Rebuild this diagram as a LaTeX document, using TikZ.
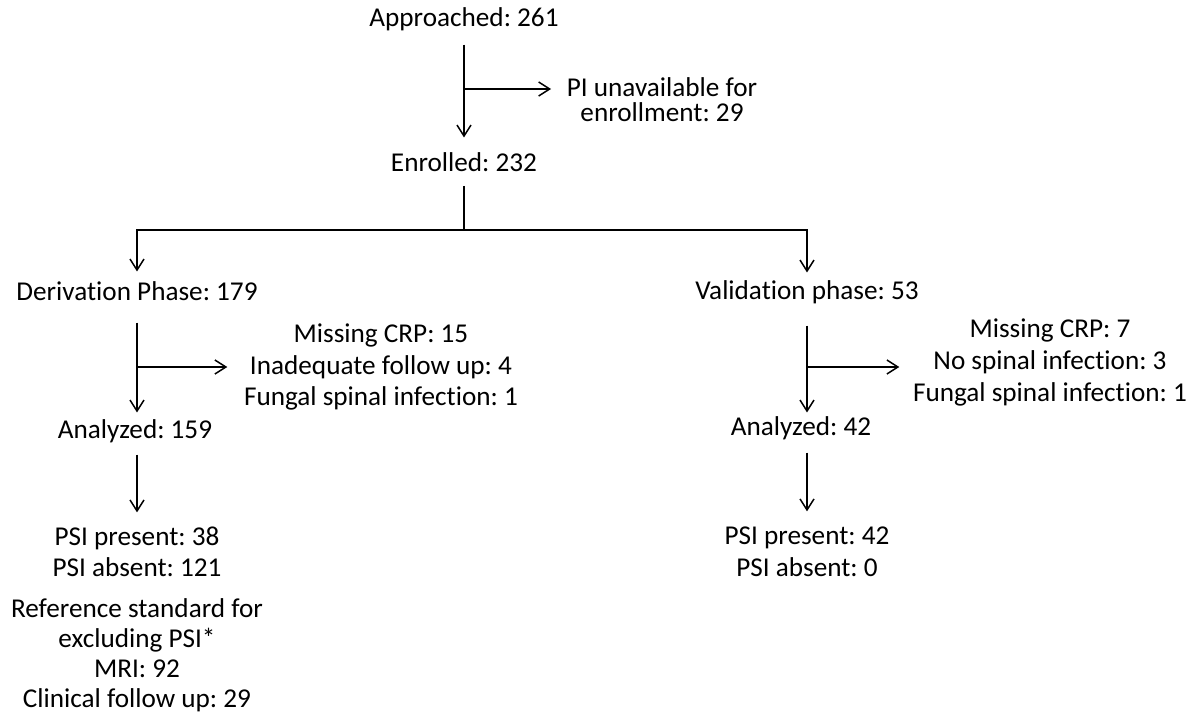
\documentclass[tikz,border=0pt]{standalone}
\usepackage{fontspec}
\setmainfont{Carlito}[Ligatures=NoCommon]
\usetikzlibrary{arrows.meta}
\frenchspacing

\begin{document}
\begin{tikzpicture}[x=0.5pt, y=-0.5pt, line width=0.75pt,
    >={Straight Barb[length=5.5pt,width=7pt]},
    lbl/.style={inner sep=0pt, text height=0.7em, text depth=0.2em,
        font=\fontsize{13.6}{15.75}\selectfont},
    note/.style={inner sep=0pt, align=center, font=\fontsize{13.6}{#1}\selectfont},
    note/.default=15.75]
    \useasboundingbox (0,0) rectangle (1199,717);

    % screening
    \node[lbl] (appr) at (464,22) {Approached: 261};
    \node[note=12.6] (piun) at (662,100) {PI unavailable for\\enrollment: 29};
    \node[lbl] (enrl) at (464,166) {Enrolled: 232};

    \draw[->, shorten <=6.4pt, shorten >=9.4pt] (appr.south) -- (appr.south |- enrl.north);
    \coordinate (b1) at (464,89);
    \draw[->, shorten >=7.5pt] (b1) -- (b1 -| piun.west);

    % the two phases
    \node[lbl] (deriv) at (137,295) {Derivation Phase: 179};
    \node[lbl] (valid) at (807,294) {Validation phase: 53};

    \coordinate (split) at (464,230);
    \draw[shorten <=5pt] (enrl.south) -- (split);
    \draw[->, shorten >=6.9pt] (split) -| (deriv.north);
    \draw[->, shorten >=5.9pt] (split) -| (valid.north);

    % exclusions
    \node[note] (exclL) at (381,367) {Missing CRP: 15\\Inadequate follow up: 4\\Fungal spinal infection: 1};
    \node[note=16] (exclR) at (1050,362) {Missing CRP: 7\\No spinal infection: 3\\Fungal spinal infection: 1};
    \node[lbl] (anaL) at (135,433) {Analyzed: 159};
    \node[lbl] (anaR) at (801,430) {Analyzed: 42};

    \draw[->, shorten <=8.9pt, shorten >=5.4pt] (deriv.south) -- (deriv.south |- anaL.north);
    \draw[->, shorten <=10.9pt, shorten >=3.9pt] (valid.south) -- (valid.south |- anaR.north);
    \coordinate (bL) at (deriv.south |- 0,367);
    \coordinate (bR) at (valid.south |- 0,367);
    \draw[->, shorten >=8pt] (bL) -- (bL -| exclL.west);
    \draw[->, shorten >=6.5pt] (bR) -- (bR -| exclR.west);

    % results
    \node[note=15.5] (resL) at (137,552) {PSI present: 38\\PSI absent: 121};
    \node[note=15] (refL) at (137,655) {Reference standard for\\excluding PSI*\\MRI: 92\\Clinical follow up: 29};
    \node[note=16] (resR) at (807,552) {PSI present: 42\\PSI absent: 0};

    \draw[->, shorten <=5.9pt, shorten >=7pt] (deriv.south |- anaL.south) -- (deriv.south |- resL.north);
    \draw[->, shorten <=6.4pt, shorten >=7.5pt] (valid.south |- anaR.south) -- (valid.south |- resR.north);
\end{tikzpicture}
\end{document}
